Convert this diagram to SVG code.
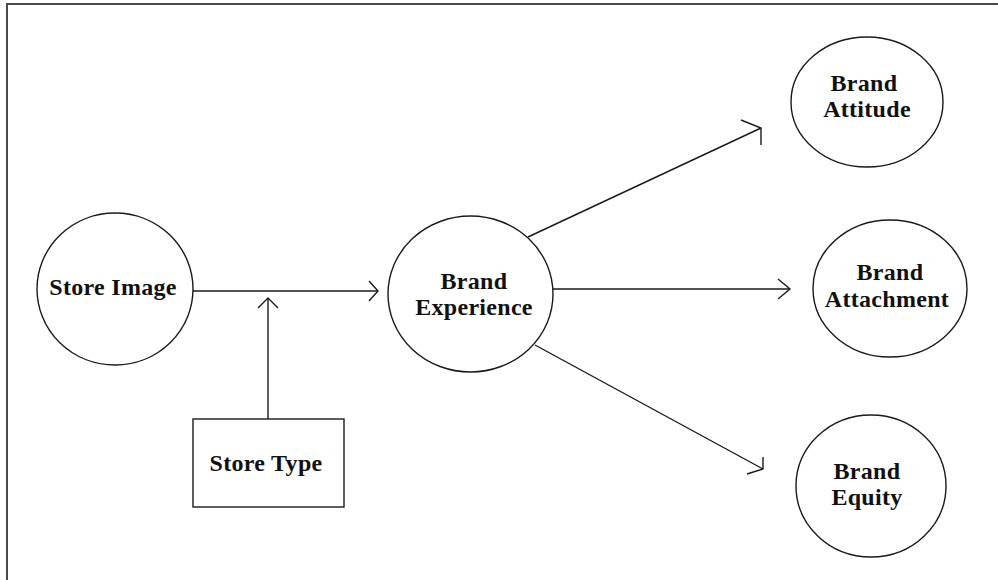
<svg xmlns="http://www.w3.org/2000/svg" width="998" height="580" viewBox="0 0 998 580">
<style>
.n{fill:none;stroke:#1a1a1a;stroke-width:1.4}
.t{font-family:"Liberation Serif","Times New Roman",serif;font-weight:bold;font-size:24px;letter-spacing:0.3px;fill:#111;text-anchor:middle}
.c{fill:none;stroke:#1a1a1a;stroke-width:1.4}
</style>
<rect width="998" height="580" fill="#fff"/>
<path d="M7,580 V4 H998" fill="none" stroke="#4a4a4a" stroke-width="2"/>
<g id="connectors">
<line class="c" x1="193" y1="291" x2="378" y2="291"/>
<polyline class="c" points="369,281 378,291 369,301"/>
<line class="c" x1="268" y1="419" x2="268" y2="298"/>
<polyline class="c" points="258,308 268,298 278,308"/>
<line class="c" x1="553" y1="289" x2="790" y2="289"/>
<polyline class="c" points="778,279 790,289 778,299"/>
<line class="c" x1="528" y1="237" x2="761" y2="128"/>
<polyline class="c" points="741,120 761,128 761,145"/>
<line class="c" x1="535" y1="345" x2="763" y2="469"/>
<polyline class="c" points="763,457 763,469 747,474"/>
</g>
<g id="store-image">
<ellipse class="n" cx="115" cy="289" rx="78" ry="76"/>
<text class="t" x="113" y="295">Store Image</text>
</g>
<g id="store-type">
<rect class="n" x="193" y="419" width="151" height="88"/>
<text class="t" x="266" y="471">Store Type</text>
</g>
<g id="brand-experience">
<ellipse class="n" cx="470.5" cy="294" rx="82.5" ry="78"/>
<text class="t" x="474" y="289">Brand</text>
<text class="t" x="474" y="315">Experience</text>
</g>
<g id="brand-attitude">
<ellipse class="n" cx="867" cy="102" rx="76" ry="65"/>
<text class="t" x="864" y="91">Brand</text>
<text class="t" x="867" y="117">Attitude</text>
</g>
<g id="brand-attachment">
<ellipse class="n" cx="890" cy="288.5" rx="77" ry="68.5"/>
<text class="t" x="890" y="280">Brand</text>
<text class="t" x="887" y="307">Attachment</text>
</g>
<g id="brand-equity">
<ellipse class="n" cx="871" cy="486" rx="75" ry="71"/>
<text class="t" x="867" y="479">Brand</text>
<text class="t" x="867" y="505">Equity</text>
</g>
</svg>
